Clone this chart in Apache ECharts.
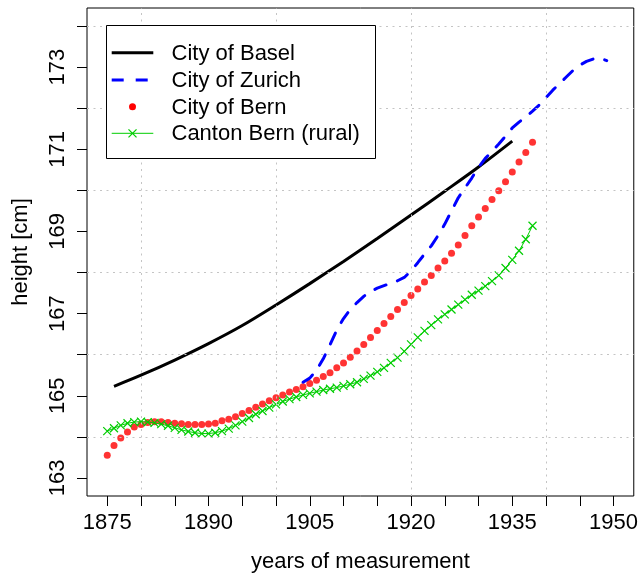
<!DOCTYPE html>
<html>
<head>
<meta charset="utf-8">
<script src="https://cdn.jsdelivr.net/npm/echarts@6/dist/echarts.min.js"></script>
<style>
  html, body { margin: 0; padding: 0; background: #fff; }
  #chart { width: 641px; height: 578px; }
</style>
</head>
<body>
<div id="chart"></div>
<script>
// axis ticks / labels / grid
var xTicks = [1875, 1880, 1885, 1890, 1895, 1900, 1905, 1910, 1915, 1920, 1925, 1930, 1935, 1940, 1945, 1950]
var xLabels = [1875, 1890, 1905, 1920, 1935, 1950]
var yTicks = [163, 164, 165, 166, 167, 168, 169, 170, 171, 172, 173, 174]
var yLabels = [163, 165, 167, 169, 171, 173]
var gridX = [1880, 1900, 1920, 1940]
var gridY = [164, 166, 168, 170, 172, 174]

// City of Basel
var baselYears = [1876, 1880, 1885, 1890, 1895, 1900, 1905, 1910, 1915, 1920, 1925, 1930, 1935]
var baselHeights = [165.23, 165.50, 165.87, 166.27, 166.71, 167.21, 167.73, 168.27, 168.83, 169.40, 169.98, 170.57, 171.20]

// City of Zurich
var zurichYears = [1904, 1905, 1906, 1907, 1908, 1909, 1910, 1911, 1912, 1913, 1914, 1915, 1916, 1917, 1918, 1919,
  1920, 1921, 1922, 1923, 1924, 1925, 1926, 1927, 1928, 1929, 1930, 1931, 1932, 1933, 1934, 1935, 1936, 1937, 1938, 1939,
  1940, 1941, 1942, 1943, 1944, 1945, 1946, 1947, 1948, 1949]
var zurichHeights = [165.33, 165.43, 165.62, 165.90, 166.24, 166.60, 166.88, 167.10, 167.27, 167.42, 167.54, 167.62, 167.68, 167.74, 167.80, 167.88,
  168.04, 168.24, 168.45, 168.65, 168.90, 169.18, 169.50, 169.82, 170.06, 170.30, 170.56, 170.78, 170.95, 171.13, 171.32, 171.52, 171.66, 171.79, 171.93, 172.08,
  172.26, 172.44, 172.60, 172.76, 172.92, 173.05, 173.14, 173.20, 173.22, 173.16]

// City of Bern and Canton Bern (same years)
var bernYears = [1875, 1876, 1877, 1878, 1879, 1880, 1881, 1882, 1883, 1884, 1885, 1886, 1887, 1888, 1889,
  1890, 1891, 1892, 1893, 1894, 1895, 1896, 1897, 1898, 1899, 1900, 1901, 1902, 1903, 1904,
  1905, 1906, 1907, 1908, 1909, 1910, 1911, 1912, 1913, 1914, 1915, 1916, 1917, 1918, 1919,
  1920, 1921, 1922, 1923, 1924, 1925, 1926, 1927, 1928, 1929, 1930, 1931, 1932, 1933, 1934,
  1935, 1936, 1937, 1938]
var bernHeights = [163.55, 163.79, 163.97, 164.12, 164.24, 164.30, 164.35, 164.37, 164.37, 164.35, 164.33, 164.32, 164.30, 164.30, 164.30,
  164.31, 164.33, 164.39, 164.43, 164.49, 164.57, 164.64, 164.72, 164.80, 164.88, 164.95, 165.02, 165.09, 165.15, 165.22,
  165.30, 165.38, 165.47, 165.56, 165.68, 165.80, 165.94, 166.09, 166.25, 166.42, 166.59, 166.76, 166.93, 167.10, 167.27,
  167.44, 167.60, 167.77, 167.93, 168.11, 168.28, 168.47, 168.67, 168.90, 169.14, 169.35, 169.56, 169.78, 169.99, 170.21,
  170.45, 170.69, 170.92, 171.17]
var cantonHeights = [164.14, 164.21, 164.28, 164.33, 164.36, 164.37, 164.36, 164.34, 164.31, 164.27, 164.22, 164.17, 164.13, 164.10, 164.08,
  164.08, 164.10, 164.14, 164.20, 164.28, 164.37, 164.46, 164.55, 164.63, 164.71, 164.79, 164.86, 164.92, 164.97, 165.02,
  165.06, 165.10, 165.14, 165.17, 165.20, 165.24, 165.28, 165.33, 165.41, 165.49, 165.58, 165.68, 165.80, 165.93, 166.08,
  166.25, 166.42, 166.58, 166.72, 166.86, 166.98, 167.10, 167.22, 167.34, 167.46, 167.56, 167.67, 167.79, 167.93, 168.11,
  168.31, 168.53, 168.81, 169.14]

var font = 'Liberation Sans, Arial, Helvetica, sans-serif'
var green = '#00CD00'

function pairs (xs, ys) {
  return xs.map(function (x, i) { return [x, ys[i]] })
}

var chart = echarts.init(document.getElementById('chart'))

var option = {
  animation: false,
  grid: {
    left: 87,
    right: 6,
    top: 8,
    bottom: 78,
    show: true,
    borderColor: '#000',
    borderWidth: 1
  },
  xAxis: {
    type: 'value',
    min: 1872,
    max: 1953,
    axisLine: { show: false },
    axisTick: { show: true, customValues: xTicks, length: 10, lineStyle: { color: '#000' } },
    axisLabel: {
      customValues: xLabels,
      margin: 16,
      fontSize: 22,
      color: '#000',
      fontFamily: font,
      formatter: function (v) { return String(v) }
    },
    splitLine: { show: false },
    name: 'years of measurement',
    nameLocation: 'middle',
    nameGap: 55,
    nameTextStyle: { fontSize: 22, color: '#000', fontFamily: font }
  },
  yAxis: {
    type: 'value',
    min: 162.56,
    max: 174.44,
    axisLine: { show: false },
    axisTick: { show: true, customValues: yTicks, length: 10, lineStyle: { color: '#000' } },
    axisLabel: { customValues: yLabels, rotate: 90, margin: 18, fontSize: 22, color: '#000', fontFamily: font },
    splitLine: { show: false },
    name: 'height [cm]',
    nameLocation: 'middle',
    nameRotate: 90,
    nameGap: 55,
    nameTextStyle: { fontSize: 22, color: '#000', fontFamily: font }
  },
  series: [
    {
      name: 'City of Basel',
      type: 'line',
      data: pairs(baselYears, baselHeights),
      smooth: 0.3,
      symbol: 'none',
      lineStyle: { color: '#000', width: 3 },
      markLine: {
        silent: true,
        symbol: 'none',
        label: { show: false },
        lineStyle: { color: '#c4c4c4', type: [2, 4.5], width: 1 },
        data: gridX.map(function (v) { return { xAxis: v } }).concat(gridY.map(function (v) { return { yAxis: v } }))
      }
    },
    {
      name: 'City of Zurich',
      type: 'line',
      data: pairs(zurichYears, zurichHeights),
      symbol: 'none',
      lineStyle: { color: '#0000ff', width: 3, type: [12, 12], cap: 'round' }
    },
    {
      name: 'Canton Bern (rural)',
      type: 'line',
      data: pairs(bernYears, cantonHeights),
      symbol: 'path://M0,0L10,10M10,0L0,10',
      symbolSize: 8,
      showAllSymbol: true,
      itemStyle: { color: 'none', borderColor: green, borderWidth: 1.2 },
      lineStyle: { color: green, width: 1 }
    },
    {
      name: 'City of Bern',
      type: 'scatter',
      data: pairs(bernYears, bernHeights),
      symbolSize: 7,
      itemStyle: { color: '#ff0000' }
    }
  ],
  graphic: [
    { type: 'rect', z: 100, shape: { x: 106.5, y: 25.5, width: 269, height: 133 }, style: { fill: '#fff', stroke: '#000', lineWidth: 1 } },
    { type: 'line', z: 101, shape: { x1: 111.7, y1: 52.7, x2: 153.3, y2: 52.7 }, style: { stroke: '#000', lineWidth: 3 } },
    { type: 'line', z: 101, shape: { x1: 111.7, y1: 80, x2: 153.3, y2: 80 }, style: { stroke: '#0000ff', lineWidth: 3, lineDash: [12, 12] } },
    { type: 'circle', z: 101, shape: { cx: 132.5, cy: 106.7, r: 3.5 }, style: { fill: '#ff0000' } },
    { type: 'line', z: 101, shape: { x1: 111.7, y1: 133.3, x2: 153.3, y2: 133.3 }, style: { stroke: green, lineWidth: 1 } },
    { type: 'polyline', z: 101, shape: { points: [[128.5, 129.3], [136.5, 137.3]] }, style: { stroke: green, lineWidth: 1.2, fill: null } },
    { type: 'polyline', z: 101, shape: { points: [[136.5, 129.3], [128.5, 137.3]] }, style: { stroke: green, lineWidth: 1.2, fill: null } },
    { type: 'text', z: 101, x: 171.5, y: 53.8, style: { text: 'City of Basel', fontSize: 22, fontFamily: font, fill: '#000', verticalAlign: 'middle' } },
    { type: 'text', z: 101, x: 171.5, y: 80.8, style: { text: 'City of Zurich', fontSize: 22, fontFamily: font, fill: '#000', verticalAlign: 'middle' } },
    { type: 'text', z: 101, x: 171.5, y: 107.5, style: { text: 'City of Bern', fontSize: 22, fontFamily: font, fill: '#000', verticalAlign: 'middle' } },
    { type: 'text', z: 101, x: 171.5, y: 134.2, style: { text: 'Canton Bern (rural)', fontSize: 22, fontFamily: font, fill: '#000', verticalAlign: 'middle' } }
  ]
}

chart.setOption(option)
</script>
</body>
</html>
